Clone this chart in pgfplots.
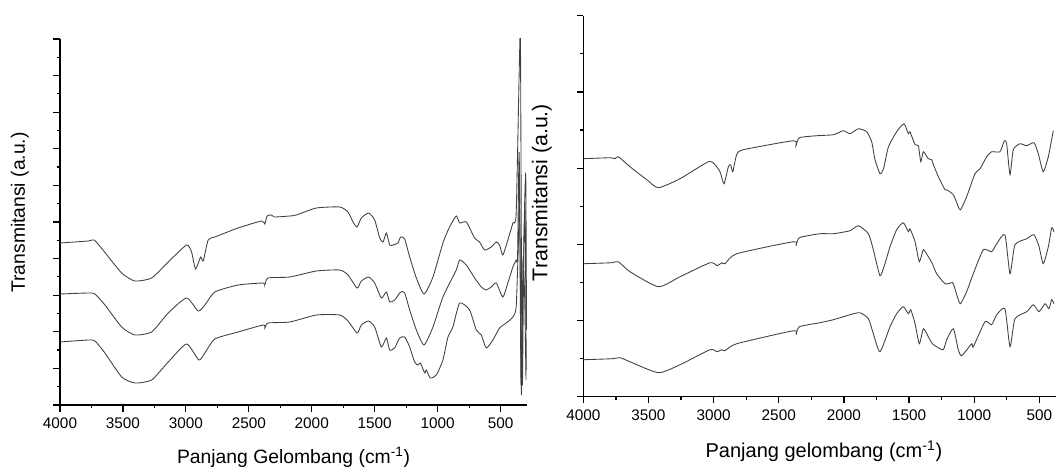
\documentclass[border=0pt]{standalone}
\usepackage{fontspec}
\setmainfont{Liberation Sans}
\usepackage{pgfplots}
\pgfplotsset{compat=1.18}

\pgfplotsset{ftir/.style={
    scale only axis,
    x dir=reverse,
    xmax=4000,
    axis lines*=left,
    axis line style={line width=1pt, -},
    tick align=outside,
    major tick length=5pt,
    minor tick length=2.5pt,
    tick style={black, line width=0.9pt},
    xtick={500,1000,...,4000},
    minor x tick num=1,
    minor y tick num=1,
    yticklabels={},
    /pgf/number format/assume math mode=true,
    /pgf/number format/1000 sep={},
    scaled x ticks=false,
    tick label style={font=\fontsize{11.5}{13}\selectfont},
    xticklabel style={yshift=-1pt},
},
spec/.style={black!75, line width=0.65pt, mark=none, smooth, tension=0.35}}

\begin{document}
\begin{tikzpicture}

% left panel
\begin{axis}[ftir,
    at={(0pt,0pt)}, anchor=south west,
    width=350.25pt, height=274.5pt,
    xmin=290, ymin=0, ymax=366,
    ytick={0,36.6,73.2,109.8,146.4,183,219.6,256.2,292.8,329.4,366},
    xlabel={Panjang Gelombang (cm\textsuperscript{-1})},
    ylabel={Transmitansi (a.u.)},
    xlabel style={font=\fontsize{14.5}{16}\selectfont, at={(axis description cs:0.5,-0.142)}, anchor=center},
    ylabel style={font=\fontsize{14.5}{16}\selectfont, at={(axis description cs:-0.0857,0.526)}, anchor=center},
]
\addplot[spec] coordinates {
(4000,162) (3775,164) (3728,165) (3659,155) (3510,132) (3405,124) (3272,127) (3140,143)
(2995,160) (2955,153) (2923,136) (2883,148) (2862,144) (2823,165) (2770,168) (2585,177)
(2399,184) (2373,181) (2355,189) (2320,190) (2294,188) (2175,189) (2122,190) (1963,197)
(1778,198) (1712,193) (1672,183) (1640,178) (1606,187) (1548,192) (1500,185) (1460,167)
(1434,163) (1407,172) (1381,160) (1354,160) (1315,162) (1294,168) (1262,166) (1222,148)
(1169,127) (1108,111) (1037,128) (958,162) (905,178) (852,189) (825,182) (772,183)
(706,167) (667,163) (627,155) (574,158) (534,163) (508,160) (482,150) (442,165)
(402,182) (376,192) (350,345) (342,366) (333,105) (326,20) (315,165) (300,230) (294,75)
};
\addplot[spec] coordinates {
(4000,111) (3775,112) (3722,111) (3643,100) (3510,78) (3405,70) (3272,73) (3140,92)
(2995,107) (2902,94) (2849,100) (2770,113) (2585,120) (2386,122) (2373,120) (2347,127)
(2175,128) (1963,134) (1778,135) (1712,130) (1640,117) (1606,124) (1548,128) (1500,122)
(1447,107) (1407,113) (1381,103) (1341,105) (1294,113) (1262,112) (1222,95) (1169,75)
(1108,60) (1037,78) (958,108) (852,135) (825,145) (772,140) (706,127) (653,118)
(614,115) (574,118) (534,122) (482,108) (442,122) (402,138) (376,145)
(365,148) (352,252) (338,25) (328,80) (318,137) (305,195) (296,35)
};
\addplot[spec] coordinates {
(4000,63) (3775,65) (3722,64) (3643,52) (3510,28) (3405,22) (3272,25) (3140,43)
(2995,61) (2897,45) (2849,52) (2770,66) (2585,73) (2386,80) (2373,77) (2347,82)
(2175,83) (1963,90) (1778,90) (1712,84) (1640,72) (1606,80) (1548,84) (1500,78)
(1447,58) (1407,67) (1381,55) (1341,57) (1302,67) (1262,68) (1222,58) (1183,43)
(1156,40) (1137,42) (1103,32) (1090,35) (1058,27) (1010,30) (958,45) (918,68)
(879,78) (825,102) (746,95) (693,75) (653,70) (614,57) (561,65) (508,77)
(455,82) (402,88) (376,98) (360,155) (348,205) (335,10) (322,145) (308,105) (298,25)
};
\end{axis}

% right panel
\begin{axis}[ftir,
    at={(392.5pt,6.2pt)}, anchor=south west,
    width=354.5pt, height=285.75pt,
    xmin=372, ymin=0, ymax=381,
    ytick={0,76.2,152.4,228.6,304.8,381},
    xlabel={Panjang gelombang (cm\textsuperscript{-1})},
    ylabel={Transmitansi (a.u.)},
    xlabel style={font=\fontsize{15}{17}\selectfont, at={(axis description cs:0.509,-0.1435)}, anchor=center},
    ylabel style={font=\fontsize{16}{18}\selectfont, at={(axis description cs:-0.088,0.536)}, anchor=center},
]
\addplot[spec] coordinates {
(4000,238) (3795,239) (3757,238) (3731,240) (3642,230) (3513,217) (3424,209) (3258,218)
(3041,235) (2989,232) (2951,225) (2920,213) (2887,230) (2869,232) (2853,225) (2823,242)
(2772,247) (2388,256) (2368,251) (2342,259) (2209,261) (2081,262) (2004,266) (1953,263)
(1889,268) (1825,265) (1787,255) (1761,237) (1723,223) (1696,228) (1658,250) (1595,265)
(1539,273) (1505,263) (1493,265) (1454,252) (1428,251) (1410,235) (1390,245) (1352,238)
(1326,237) (1313,232) (1275,220) (1224,207) (1211,207) (1160,202) (1122,190) (1104,187)
(1058,200) (994,223) (955,228) (904,240) (866,245) (802,245) (769,256) (751,253)
(725,222) (700,247) (649,253) (597,251) (541,254) (508,243) (470,225) (431,240) (393,266)
};
\addplot[spec] coordinates {
(4000,133) (3782,134) (3731,135) (3642,125) (3424,110) (3258,120) (3028,134) (2972,131)
(2938,134) (2913,133) (2823,143) (2388,155) (2368,151) (2342,159) (2184,163) (2081,163)
(1953,166) (1889,171) (1812,163) (1774,147) (1723,121) (1685,133) (1646,150) (1595,167)
(1544,174) (1505,165) (1493,168) (1454,155) (1421,135) (1390,147) (1352,140) (1321,133)
(1288,123) (1224,113) (1173,114) (1160,113) (1122,97) (1104,93) (1058,105) (1007,123)
(930,147) (866,145) (827,153) (764,162) (725,123) (687,152) (597,158) (541,162)
(502,150) (470,133) (431,150) (405,169) (388,165)
};
\addplot[spec] coordinates {
(4000,37) (3782,38) (3718,39) (3642,35) (3424,24) (3258,32) (3028,47) (2972,45)
(2938,47) (2913,46) (2823,53) (2388,66) (2368,62) (2342,70) (2184,74) (2081,77)
(1953,82) (1877,84) (1812,78) (1774,63) (1723,45) (1646,70) (1595,83) (1544,90)
(1505,83) (1487,87) (1454,73) (1421,53) (1390,68) (1352,60) (1321,53) (1288,50)
(1237,47) (1211,57) (1160,68) (1122,47) (1096,41) (1019,53) (1007,50) (917,75)
(866,72) (827,82) (764,88) (725,50) (687,78) (597,85) (546,92) (502,85)
(456,93) (426,88) (405,97) (388,93)
};
\end{axis}

\pgfresetboundingbox
\path[use as bounding box] (-45pt,-46.5pt) rectangle (747pt,303.75pt);
\end{tikzpicture}
\end{document}
